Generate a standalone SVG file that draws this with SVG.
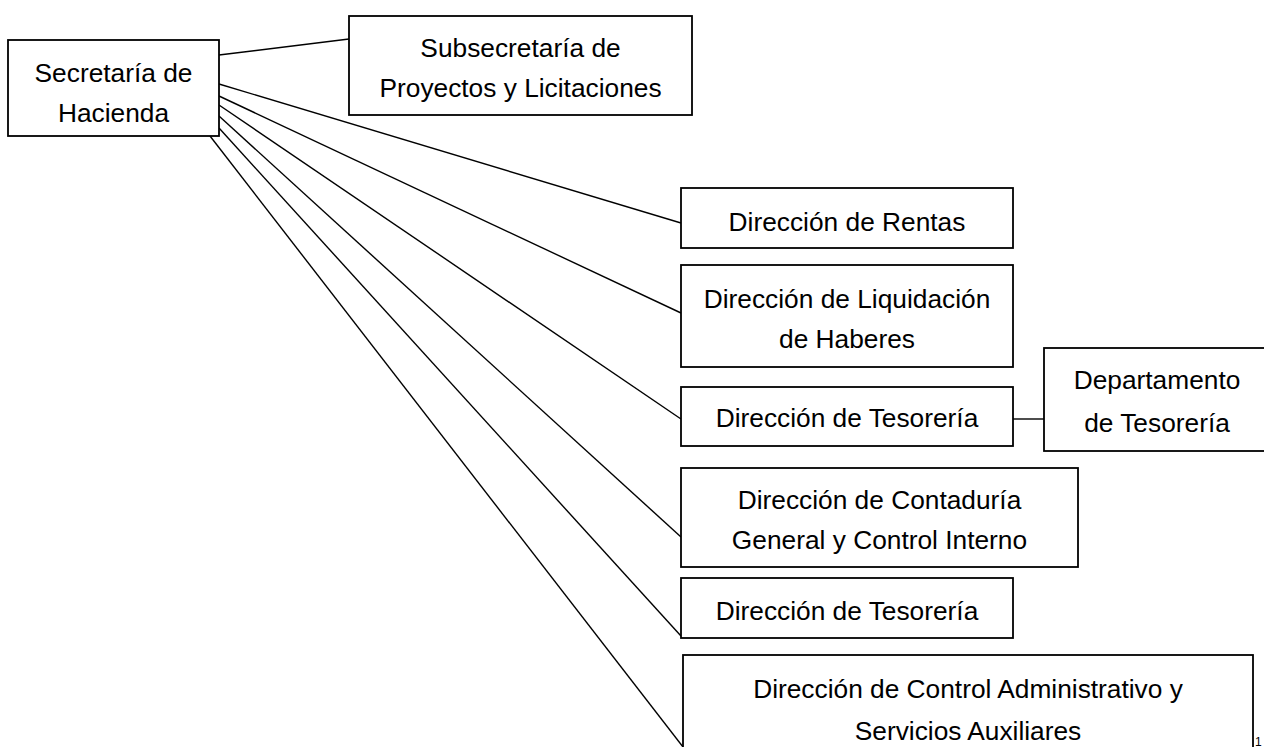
<svg xmlns="http://www.w3.org/2000/svg" width="1264" height="747" viewBox="0 0 1264 747">
<style>
.box{fill:#fff;stroke:#000;stroke-width:1.8}
.t{font-family:"Liberation Sans",Arial,sans-serif;font-size:26.3px;fill:#000;text-anchor:middle}
.c{stroke:#000;stroke-width:1.4;fill:none}
</style>
<rect width="1264" height="747" fill="#fff"/>
<g id="connectors">
<line class="c" x1="219" y1="55" x2="349" y2="39"/>
<line class="c" x1="219" y1="84" x2="681" y2="223"/>
<line class="c" x1="219" y1="96" x2="681" y2="313"/>
<line class="c" x1="219" y1="105" x2="681" y2="419"/>
<line class="c" x1="219" y1="116" x2="681" y2="537"/>
<line class="c" x1="219" y1="128" x2="681" y2="636"/>
<line class="c" x1="210" y1="136" x2="683" y2="747"/>
<line class="c" x1="1013" y1="419" x2="1044" y2="419"/>
</g>
<g id="secretaria">
<rect class="box" x="8" y="40" width="211" height="96"/>
<text class="t" x="113.5" y="82">Secretaría de</text>
<text class="t" x="113.5" y="122">Hacienda</text>
</g>
<g id="subsecretaria">
<rect class="box" x="349" y="16" width="343" height="99"/>
<text class="t" x="520.5" y="57">Subsecretaría de</text>
<text class="t" x="520.5" y="97">Proyectos y Licitaciones</text>
</g>
<g id="rentas">
<rect class="box" x="681" y="188" width="332" height="60"/>
<text class="t" x="847" y="231">Dirección de Rentas</text>
</g>
<g id="liquidacion">
<rect class="box" x="681" y="265" width="332" height="102"/>
<text class="t" x="847" y="308">Dirección de Liquidación</text>
<text class="t" x="847" y="348">de Haberes</text>
</g>
<g id="tesoreria1">
<rect class="box" x="681" y="387" width="332" height="59"/>
<text class="t" x="847" y="427">Dirección de Tesorería</text>
</g>
<g id="departamento">
<rect class="box" x="1044" y="348" width="230" height="103"/>
<text class="t" x="1157" y="389">Departamento</text>
<text class="t" x="1157" y="432">de Tesorería</text>
</g>
<g id="contaduria">
<rect class="box" x="681" y="468" width="397" height="99"/>
<text class="t" x="879.5" y="509">Dirección de Contaduría</text>
<text class="t" x="879.5" y="549">General y Control Interno</text>
</g>
<g id="tesoreria2">
<rect class="box" x="681" y="578" width="332" height="60"/>
<text class="t" x="847" y="620">Dirección de Tesorería</text>
</g>
<g id="control">
<rect class="box" x="683" y="655" width="570" height="120"/>
<text class="t" x="968" y="698">Dirección de Control Administrativo y</text>
<text class="t" x="968" y="740">Servicios Auxiliares</text>
</g>
<text x="1255" y="746" font-family="Liberation Sans, Arial, sans-serif" font-size="12" fill="#000">1</text>
</svg>
